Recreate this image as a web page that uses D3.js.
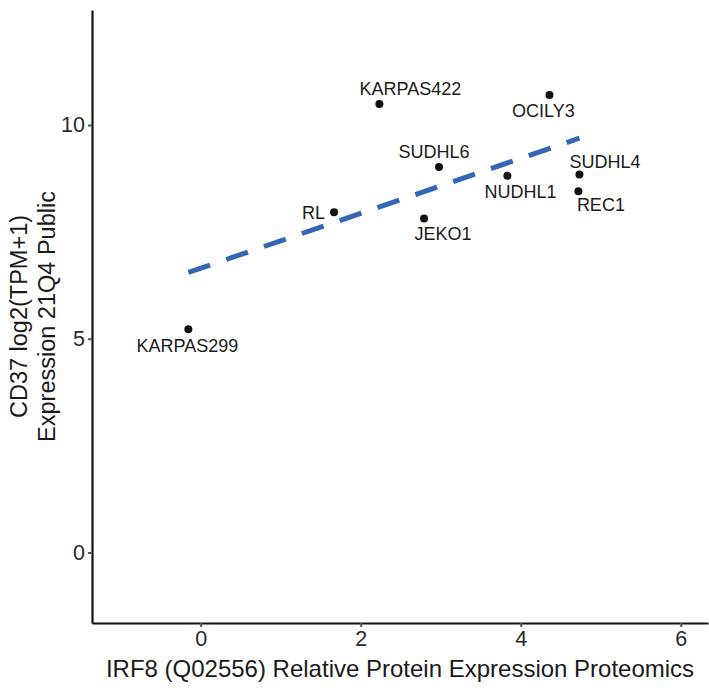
<!DOCTYPE html>
<html>
<head>
<meta charset="utf-8">
<script src="https://cdn.jsdelivr.net/npm/d3@7/dist/d3.min.js"></script>
<style>
  body { margin: 0; background: #fff; }
  svg text { font-family: "Liberation Sans", Arial, sans-serif; }
</style>
</head>
<body>
<div id="chart"></div>
<script>
// cell lines
const cellLines = ['KARPAS299', 'RL', 'KARPAS422', 'SUDHL6', 'JEKO1', 'NUDHL1', 'OCILY3', 'SUDHL4', 'REC1'];
const irf8 = [-0.155, 1.666, 2.233, 2.978, 2.791, 3.833, 4.358, 4.733, 4.72];
const cd37 = [5.22, 7.96, 10.49, 9.02, 7.81, 8.81, 10.70, 8.84, 8.45];
const xTicks = [0, 2, 4, 6];
const yTicks = [0, 5, 10];

// where each label sits relative to its point (px), like ggrepel placed them
const labelNudge = {
  KARPAS299: [-1, 16], RL: [-20.5, 1], KARPAS422: [31, -15], SUDHL6: [-5, -15],
  JEKO1: [19, 15.5], NUDHL1: [13, 16], OCILY3: [-6, 15.3], SUDHL4: [25.7, -12.6], REC1: [22.5, 13.3]
};

const width = 709;
const height = 688;
const margin = { top: 10, right: 1, bottom: 65, left: 92 };

const data = cellLines.map((name, i) => ({ name, x: irf8[i], y: cd37[i] }));

const x = d3.scaleLinear()
  .domain([-1.359, 6.34])
  .range([margin.left, width - margin.right]);

const y = d3.scaleLinear()
  .domain([-1.65, 12.69])
  .range([height - margin.bottom, margin.top]);

const svg = d3.select('#chart').append('svg')
  .attr('width', width)
  .attr('height', height);

// least squares fit
const mx = d3.mean(data, d => d.x);
const my = d3.mean(data, d => d.y);
const slope = d3.sum(data, d => (d.x - mx) * (d.y - my)) / d3.sum(data, d => (d.x - mx) ** 2);
const xExt = d3.extent(data, d => d.x);
const fit = xExt.map(v => ({ x: v, y: my + slope * (v - mx) }));

svg.append('path')
  .datum(fit)
  .attr('d', d3.line().x(d => x(d.x)).y(d => y(d.y)))
  .attr('fill', 'none')
  .attr('stroke', '#3565b5')
  .attr('stroke-width', 5)
  .attr('stroke-dasharray', '23,17');

svg.append('g')
  .selectAll('circle')
  .data(data)
  .join('circle')
  .attr('cx', d => x(d.x))
  .attr('cy', d => y(d.y))
  .attr('r', 4)
  .attr('fill', '#111');

svg.append('g')
  .selectAll('text')
  .data(data)
  .join('text')
  .attr('x', d => x(d.x) + labelNudge[d.name][0])
  .attr('y', d => y(d.y) + labelNudge[d.name][1])
  .attr('dy', '0.35em')
  .attr('text-anchor', 'middle')
  .attr('font-size', 18)
  .attr('fill', '#1a1a1a')
  .text(d => d.name);

// axes
const xAxis = svg.append('g')
  .attr('transform', `translate(0,${height - margin.bottom})`)
  .call(d3.axisBottom(x).tickValues(xTicks).tickSize(4).tickPadding(4).tickSizeOuter(0));

const yAxis = svg.append('g')
  .attr('transform', `translate(${margin.left},0)`)
  .call(d3.axisLeft(y).tickValues(yTicks).tickSize(4).tickPadding(3).tickSizeOuter(0));

[xAxis, yAxis].forEach(g => {
  g.select('.domain').attr('stroke', '#111').attr('stroke-width', 2.2);
  g.selectAll('.tick line').attr('stroke', '#555').attr('stroke-width', 2);
  g.selectAll('.tick text').attr('font-size', 21.5).attr('fill', '#2a2a2a');
});

// axis titles
svg.append('text')
  .attr('x', (margin.left + width - margin.right) / 2)
  .attr('y', 677)
  .attr('text-anchor', 'middle')
  .attr('font-size', 24)
  .attr('fill', '#1a1a1a')
  .text('IRF8 (Q02556) Relative Protein Expression Proteomics');

const yMid = (margin.top + height - margin.bottom) / 2;
const yTitle = svg.append('text')
  .attr('transform', `translate(27,${yMid}) rotate(-90)`)
  .attr('text-anchor', 'middle')
  .attr('font-size', 23.5)
  .attr('fill', '#1a1a1a');
yTitle.append('tspan').attr('x', 0).attr('y', 0).text('CD37 log2(TPM+1)');
yTitle.append('tspan').attr('x', 0).attr('y', 28).text('Expression 21Q4 Public');
</script>
</body>
</html>
